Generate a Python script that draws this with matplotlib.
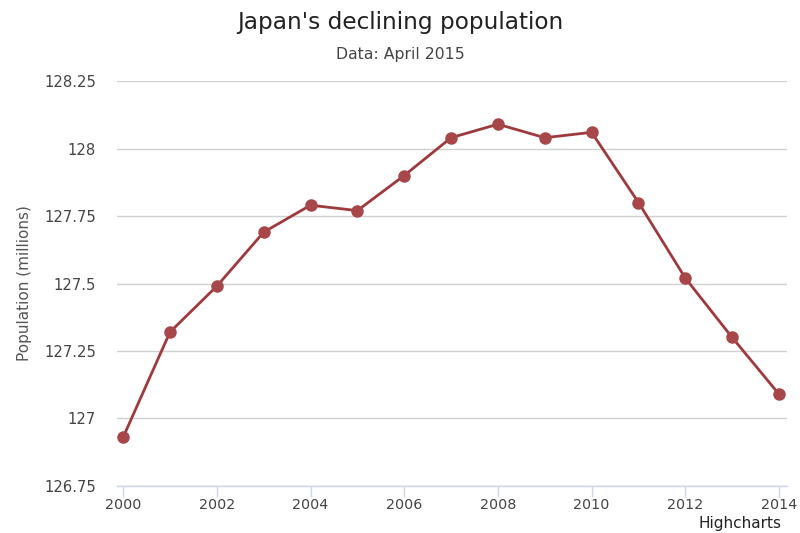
import matplotlib
matplotlib.use('Agg')
import matplotlib.pyplot as plt

# population data (millions)
years = [2000, 2001, 2002, 2003, 2004, 2005, 2006, 2007,
         2008, 2009, 2010, 2011, 2012, 2013, 2014]
population = [126.93, 127.32, 127.49, 127.69, 127.79, 127.77, 127.90, 128.04,
              128.09, 128.04, 128.06, 127.80, 127.52, 127.30, 127.09]
y_ticks = [126.75, 127, 127.25, 127.5, 127.75, 128, 128.25]
y_tick_labels = ['126.75', '127', '127.25', '127.5', '127.75', '128', '128.25']
x_ticks = [2000, 2002, 2004, 2006, 2008, 2010, 2012, 2014]

fig = plt.figure(figsize=(8, 5.33), dpi=100)
ax = fig.add_axes([0.14625, 0.0882, 0.8375, 0.7598])

ax.plot(years, population, color='#9e3a3e', linewidth=2, marker='o',
        markersize=8, markerfacecolor='#a8474a', markeredgecolor='#a8474a', zorder=3)

ax.set_xlim(1999.87, 2014.17)
ax.set_ylim(126.75, 128.25)
ax.set_yticks(y_ticks)
ax.set_yticklabels(y_tick_labels)
ax.set_xticks(x_ticks)

ax.grid(axis='y', color='#d0d0d0', linewidth=1)
ax.set_axisbelow(True)
for s in ['left', 'right', 'top']:
    ax.spines[s].set_visible(False)
ax.spines['bottom'].set_color('#ccd6eb')
ax.spines['bottom'].set_linewidth(1)
ax.tick_params(axis='y', length=0, labelsize=10.6, labelcolor='#444444', pad=15)
ax.tick_params(axis='x', length=8, width=1, color='#ccd6eb', labelsize=10.3,
               labelcolor='#444444', pad=1)
ax.set_ylabel('Population (millions)', fontsize=11, color='#555555', labelpad=9)

fig.text(0.5, 0.957, "Japan's declining population", ha='center', va='center',
         fontsize=16.7, color='#222222')
fig.text(0.5, 0.898, 'Data: April 2015', ha='center', va='center',
         fontsize=11.3, color='#444444')
fig.text(0.977, 0.003, 'Highcharts', ha='right', va='bottom', fontsize=11, color='#222222')

fig.savefig('out.png', dpi=100)
